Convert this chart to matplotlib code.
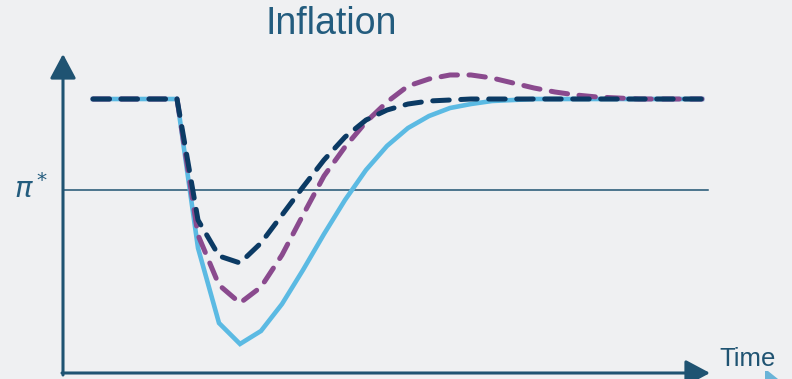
import matplotlib
matplotlib.use('Agg')
import matplotlib.pyplot as plt
from matplotlib.patches import Polygon

# time periods and inflation paths (0 = target pi*, 1 = starting level)
periods = list(range(30))
solid_blue = [1.0, 1.0, 1.0, 1.0, 1.0, -0.637, -1.462, -1.692, -1.549, -1.253,
              -0.879, -0.484, -0.110, 0.220, 0.484, 0.681, 0.813, 0.901, 0.945, 0.978,
              0.989, 1.0, 1.0, 1.0, 1.0, 1.0, 1.0, 1.0, 1.0, 1.0]
dash_purple = [1.0, 1.0, 1.0, 1.0, 1.0, -0.495, -1.044, -1.242, -1.066, -0.714,
               -0.275, 0.154, 0.473, 0.747, 0.967, 1.143, 1.220, 1.264, 1.264, 1.231,
               1.176, 1.121, 1.077, 1.044, 1.022, 1.011, 1.0, 1.0, 1.0, 1.0]
dash_navy = [1.0, 1.0, 1.0, 1.0, 1.0, -0.330, -0.725, -0.802, -0.582, -0.275,
             0.033, 0.330, 0.582, 0.769, 0.879, 0.945, 0.978, 0.989, 1.0, 1.0,
             1.0, 1.0, 1.0, 1.0, 1.0, 1.0, 1.0, 1.0, 1.0, 1.0]

bg = '#eff0f2'
axis_col = '#1f5372'

fig = plt.figure(figsize=(7.92, 3.79), dpi=100, facecolor=bg)
ax = fig.add_axes([0, 0, 1, 1])
ax.set_facecolor(bg)
ax.set_xlim(-4.4286, 33.286)
ax.set_ylim(-2.077, 2.088)
ax.axis('off')

# target line
ax.axhline(0, xmin=63 / 792, xmax=708 / 792, color=axis_col, lw=1.1)

ax.plot(periods, solid_blue, color='#5bbae3', lw=3.3, solid_joinstyle='miter', zorder=3)
ax.plot(periods, dash_purple, color='#8a4a8e', lw=3.6, linestyle=(0, (3.3, 2.3)),
        dash_capstyle='round', zorder=4)
ax.plot(periods, dash_navy, color='#0b3a64', lw=3.6, linestyle=(0, (3.3, 2.3)),
        dash_capstyle='round', zorder=5)

# axes arrows
arrow = dict(arrowstyle='-|>,head_length=0.75,head_width=0.4', color=axis_col,
             lw=2.2, mutation_scale=20, shrinkA=0, shrinkB=0)
ax.annotate('', xy=(63 / 792, 1 - 54 / 379), xytext=(63 / 792, 1 - 375 / 379),
            xycoords='figure fraction', textcoords='figure fraction', arrowprops=arrow)
ax.annotate('', xy=(710 / 792, 1 - 373 / 379), xytext=(62 / 792, 1 - 373 / 379),
            xycoords='figure fraction', textcoords='figure fraction', arrowprops=arrow)

fig.text(331 / 792, 1 - 24 / 379, 'Inflation', ha='center', va='center',
         fontsize=27, color='#235c7e', family='Liberation Sans')
fig.text(748 / 792, 1 - 359 / 379, 'Time', ha='center', va='center',
         fontsize=18.5, color=axis_col, family='Liberation Sans')
fig.text(31 / 792, 1 - 189 / 379, r'$\pi^*$', ha='center', va='center',
         fontsize=21, color='#235c7e')

# little corner decoration
fig.patches.append(Polygon([(765 / 792, 1 - 371 / 379), (768 / 792, 1 - 371 / 379),
                            (778 / 792, 0), (765 / 792, 0)],
                           closed=True, transform=fig.transFigure,
                           facecolor='#6ab4d8', edgecolor='none'))

fig.savefig('out.png', dpi=100, facecolor=bg)
